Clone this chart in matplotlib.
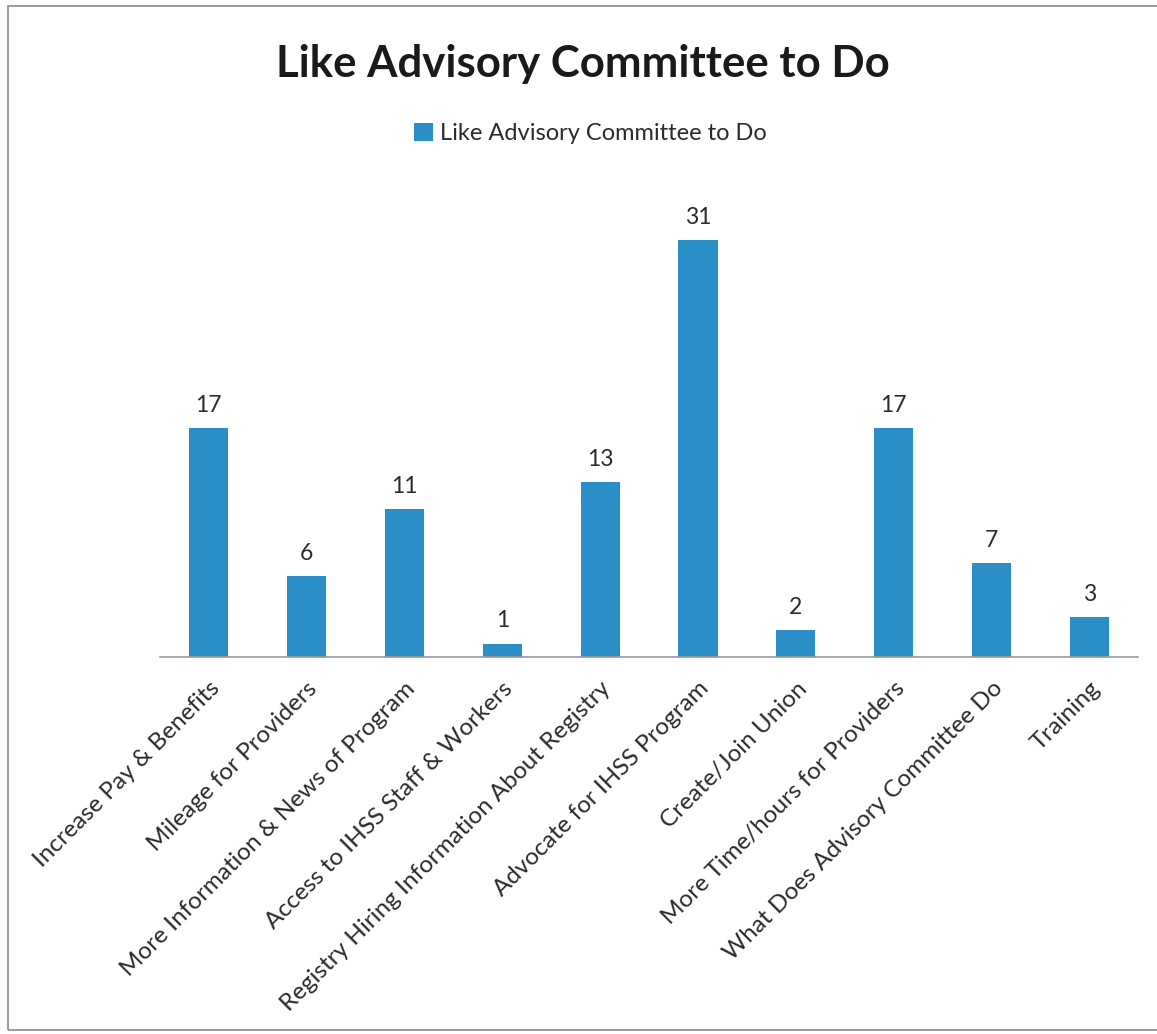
import numpy as np
import matplotlib.pyplot as plt
import matplotlib.patches as patches

categories = [
    "Increase Pay & Benefits",
    "Mileage for Providers",
    "More Information & News of Program",
    "Access to IHSS Staff & Workers",
    "Registry Hiring Information About Registry",
    "Advocate for IHSS Program",
    "Create/Join Union",
    "More Time/hours for Providers",
    "What Does Advisory Committee Do",
    "Training",
]
counts = [17, 6, 11, 1, 13, 31, 2, 17, 7, 3]
series_name = "Like Advisory Committee to Do"
title = "Like Advisory Committee to Do"

plt.rcParams['font.family'] = ['Lato', 'DejaVu Sans']
bar_colour = '#2a8fc6'
text_colour = '#2b2b2b'

fig = plt.figure(figsize=(11.57, 10.34), dpi=100)
ax = fig.add_axes([0.138, 0.3646, 0.846, 0.455])

x = np.arange(len(categories))
bars = ax.bar(x, counts, width=0.4, color=bar_colour, label=series_name)

# value labels above bars
for xi, v in zip(x, counts):
    ax.text(xi, v + 0.9, str(v), ha='center', va='bottom', fontsize=16.5, color=text_colour)

ax.set_xlim(-0.5, len(categories) - 0.5)
ax.set_ylim(0, 35)
ax.set_yticks([])
ax.set_xticks(x)
ax.set_xticklabels(categories, rotation=45, ha='right', rotation_mode='anchor',
                   fontsize=17.5, color=text_colour)
ax.tick_params(axis='x', length=0, pad=15)

for side in ['top', 'right', 'left']:
    ax.spines[side].set_visible(False)
ax.spines['bottom'].set_color('#9a9a9a')
ax.spines['bottom'].set_linewidth(1.2)

fig.text(0.504, 0.938, title, ha='center', va='center', fontsize=31.5,
         fontweight='bold', color='#1a1a1a')

fig.legend(handles=[bars], labels=[series_name], loc='center', bbox_to_anchor=(0.51, 0.871),
           frameon=False, fontsize=17, handlelength=0.8, handleheight=0.8,
           handletextpad=0.3, labelcolor=text_colour)

# outer border of the chart
fig.patches.append(patches.Rectangle((0.007, 0.004), 1.0, 0.99, transform=fig.transFigure,
                                     fill=False, edgecolor='#8a8a8a', linewidth=1.2))

fig.savefig('out.png', dpi=100)
